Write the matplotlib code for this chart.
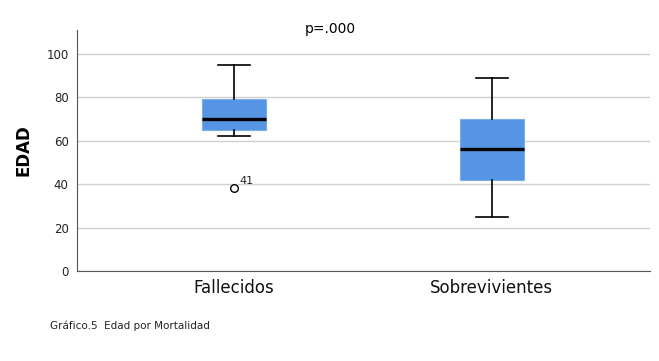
import matplotlib
matplotlib.use('Agg')
import matplotlib.pyplot as plt

# === DATA ===
groups = ['Fallecidos', 'Sobrevivientes']
whislo = [62, 25]
q1 = [65, 42]
med = [70, 56]
q3 = [79, 70]
whishi = [95, 89]
outliers = [[38], []]
outlier_ids = [['41'], []]

BOX = '#5595E3'
GRID = '#D0D0D0'
AXIS = '#555555'

fig = plt.figure(figsize=(6.59, 3.61), dpi=100)
ax = fig.add_axes([77 / 659, 1 - 271 / 361, 573 / 659, 241 / 361])

stats = []
for i, g in enumerate(groups):
    stats.append({'label': g, 'whislo': whislo[i], 'q1': q1[i], 'med': med[i],
                  'q3': q3[i], 'whishi': whishi[i], 'fliers': outliers[i]})

pos = [1, 2]
ax.bxp(stats, positions=pos, widths=0.248, patch_artist=True, showfliers=True,
       boxprops=dict(facecolor=BOX, edgecolor='#7AAEEB', linewidth=0.8),
       medianprops=dict(color='black', linewidth=2.4),
       whiskerprops=dict(color='black', linewidth=1.2),
       capprops=dict(color='black', linewidth=1.2),
       capwidths=0.124,
       flierprops=dict(marker='o', markerfacecolor='white', markeredgecolor='black',
                       markersize=5.5, markeredgewidth=1.0))

for i, (vals, ids) in enumerate(zip(outliers, outlier_ids)):
    for v, t in zip(vals, ids):
        ax.annotate(t, (pos[i], v), xytext=(4, 3), textcoords='offset points',
                    fontsize=8, color='#222222')

ax.set_xlim(0.391, 2.613)
ax.set_ylim(0, 111)
ax.set_yticks([0, 20, 40, 60, 80, 100])
ax.yaxis.grid(True, color=GRID, linewidth=1.0)
ax.set_axisbelow(True)
for s in ['top', 'right']:
    ax.spines[s].set_visible(False)
ax.spines['left'].set_color(AXIS)
ax.spines['bottom'].set_color(AXIS)
ax.tick_params(axis='y', length=0, labelsize=8.5, colors='#222222', pad=6)
ax.tick_params(axis='x', length=0, labelsize=12, colors='#111111', pad=6)
ax.set_ylabel('EDAD', fontsize=12, fontweight='bold', labelpad=10)

fig.text(330 / 659, 1 - 29 / 361, 'p=.000', ha='center', va='center', fontsize=10)
fig.text(50 / 659, 1 - 326 / 361, 'Gráfico.5  Edad por Mortalidad', ha='left', va='center',
         fontsize=7.5, color='#222222')

fig.savefig('out.png', dpi=100, facecolor='white')
